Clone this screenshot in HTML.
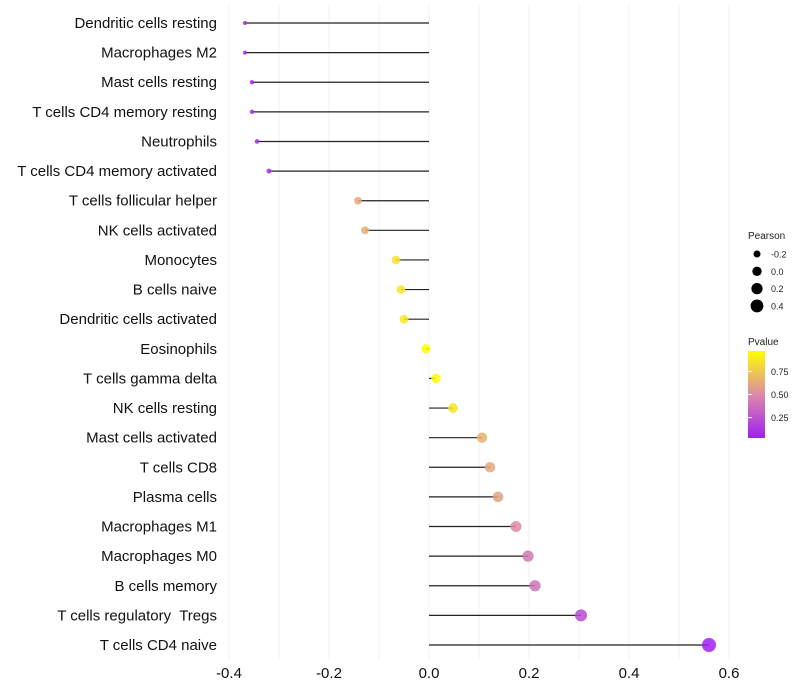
<!DOCTYPE html>
<html><head><meta charset="utf-8"><style>
body{margin:0;background:#fff;font-family:"Liberation Sans",sans-serif}
svg{display:block}
text{white-space:pre}
</style></head><body>
<svg id="chart" width="800" height="700">
<defs><linearGradient id="pg" x1="0" y1="1" x2="0" y2="0">
<stop offset="0" stop-color="#a020f0"/><stop offset="0.5" stop-color="#dc8aa8"/><stop offset="1" stop-color="#ffff00"/>
</linearGradient></defs>
<g id="grid"></g><g id="marks"></g><g id="labels"></g><g id="legend"></g>
</svg>
<script>
const categories=["Dendritic cells resting","Macrophages M2","Mast cells resting","T cells CD4 memory resting","Neutrophils","T cells CD4 memory activated","T cells follicular helper","NK cells activated","Monocytes","B cells naive","Dendritic cells activated","Eosinophils","T cells gamma delta","NK cells resting","Mast cells activated","T cells CD8","Plasma cells","Macrophages M1","Macrophages M0","B cells memory","T cells regulatory  Tregs","T cells CD4 naive"];
const pearson=[-0.368,-0.368,-0.354,-0.354,-0.344,-0.32,-0.142,-0.128,-0.066,-0.056,-0.05,-0.006,0.014,0.048,0.106,0.122,0.138,0.174,0.198,0.212,0.304,0.56];
const pvalue=[0.05,0.05,0.06,0.06,0.07,0.09,0.62,0.65,0.85,0.87,0.88,0.97,0.96,0.86,0.66,0.62,0.6,0.5,0.42,0.4,0.22,0.03];
const xTicks=[-0.4,-0.2,0,0.2,0.4,0.6];
const sizeLegend=[-0.2,0,0.2,0.4];
const pTicks=[0.25,0.5,0.75];
const NS="http://www.w3.org/2000/svg";
const x=v=>429+v*500;
const y=i=>23+i*(622/21);
const r=v=>Math.sqrt(Math.max(1,21.9+48.4*v));
function col(p){const t=Math.min(1,Math.max(0,(p-0.03)/0.94));
 const a=[160,32,240],m=[220,138,168],b=[255,255,0];let c;
 if(t<0.5){const s=t/0.5;c=a.map((v,k)=>v+(m[k]-v)*s);}else{const s=(t-0.5)/0.5;c=m.map((v,k)=>v+(b[k]-v)*s);}
 return `rgb(${c.map(Math.round).join(',')})`;}
function mk(tag,attrs,parent,text){const e=document.createElementNS(NS,tag);for(const k in attrs)e.setAttribute(k,attrs[k]);if(text!==undefined)e.textContent=text;document.getElementById(parent).appendChild(e);return e;}
for(let v=-0.4;v<=0.61;v+=0.1){const e=mk('line',{x1:x(v),x2:x(v),y1:5,y2:660,stroke:'#f0f0f0','stroke-width':1},'grid');

}
xTicks.forEach(t=>{const e=mk('text',{x:x(t),y:678,'text-anchor':'middle','font-size':15,fill:'#111'},'labels',t===0?'0.0':t.toFixed(1));

});
categories.forEach((c,i)=>{
 const l=mk('text',{x:217,y:y(i)+5,'text-anchor':'end','font-size':15,fill:'#111'},'labels',c);
 
 
 const s=mk('line',{x1:x(0),x2:x(pearson[i]),y1:y(i),y2:y(i),stroke:'#222','stroke-width':1.2},'marks');
 
 
 const d=mk('circle',{cx:x(pearson[i]),cy:y(i),r:r(pearson[i]),fill:col(pvalue[i]),'fill-opacity':0.85},'marks');
 
 
});
let e=mk('text',{x:748,y:239,'font-size':10,fill:'#222'},'legend','Pearson');


sizeLegend.forEach((v,i)=>{const yy=254+i*17.3;
 const c=mk('circle',{cx:757,cy:yy,r:r(v),fill:'#000'},'legend');
 
 
 const t=mk('text',{x:771,y:yy+3.5,'font-size':9,fill:'#222'},'legend',v.toFixed(1));
 
 });
e=mk('text',{x:748,y:345,'font-size':10,fill:'#222'},'legend','Pvalue');


e=mk('rect',{x:748,y:351,width:17,height:87,fill:'url(#pg)'},'legend');


const py=p=>438-(p-0.03)/0.94*87;
pTicks.forEach(p=>{
 const l=mk('line',{x1:748,x2:752,y1:py(p),y2:py(p),stroke:'#fff'},'legend');
 
 
 const t=mk('text',{x:771,y:py(p)+3.5,'font-size':9,fill:'#222'},'legend',p.toFixed(2));
 
 });
</script>
</body></html>
